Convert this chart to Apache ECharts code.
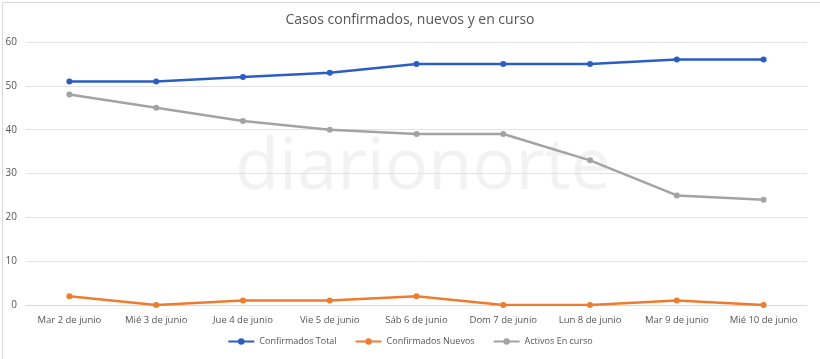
<!DOCTYPE html>
<html><head><meta charset="utf-8">
<script src="https://cdn.jsdelivr.net/npm/echarts@6/dist/echarts.min.js"></script>
<style>html,body{margin:0;padding:0;background:#fff}#c{width:820px;height:359px}</style>
</head><body><div id="c"></div>
<script>
const categories = ['Mar 2 de junio','Mié 3 de junio','Jue 4 de junio','Vie 5 de junio','Sáb 6 de junio','Dom 7 de junio','Lun 8 de junio','Mar 9 de junio','Mié 10 de junio'];
const confirmadosTotal = [51, 51, 52, 53, 55, 55, 55, 56, 56];
const confirmadosNuevos = [2, 0, 1, 1, 2, 0, 0, 1, 0];
const activosEnCurso = [48, 45, 42, 40, 39, 39, 33, 25, 24];
const seriesNames = ['Confirmados Total', 'Confirmados Nuevos', 'Activos En curso'];
const colors = ['#2B5EC4', '#EE7C2F', '#A3A3A3'];
const font = '"Open Sans", "Noto Sans", sans-serif';

const chart = echarts.init(document.getElementById('c'));
function mk(name, data, color) {
  return {
    name, type: 'line', data,
    symbol: 'circle', symbolSize: 6,
    lineStyle: { width: 2.5, color },
    itemStyle: { color },
    animation: false
  };
}
chart.setOption({
  animation: false,
  color: colors,
  title: {
    text: 'Casos confirmados, nuevos y en curso',
    left: 'center', top: 8,
    textStyle: { fontFamily: font, fontSize: 14, fontWeight: 'normal', color: '#555' }
  },
  graphic: [
    { type: 'rect', left: 0, top: 0, shape: { width: 819, height: 358 }, style: { fill: 'none', stroke: '#d9d9d9', lineWidth: 1 }, z: -10 },
    { type: 'text', left: 235, top: 132, z: -5, style: { text: 'diarionorte', fontSize: 72, fontFamily: font, fill: 'rgba(190,190,190,0.2)' } }
  ],
  legend: {
    bottom: 8, left: 'center',
    itemWidth: 26, itemHeight: 8, itemGap: 18,
    textStyle: { fontFamily: font, fontSize: 9, color: '#555' },
    data: seriesNames
  },
  grid: { left: 26, right: 13, top: 42, bottom: 54 },
  xAxis: {
    type: 'category', data: categories, boundaryGap: true,
    axisLine: { show: true, lineStyle: { color: '#d9d9d9' } },
    axisTick: { show: false },
    axisLabel: { fontFamily: font, fontSize: 9.5, color: '#555', margin: 10, interval: 0 }
  },
  yAxis: {
    type: 'value', min: 0, max: 60, interval: 10,
    axisLine: { show: false }, axisTick: { show: false },
    splitLine: { lineStyle: { color: '#e3e3e3' } },
    axisLabel: { fontFamily: font, fontSize: 10, color: '#555', margin: 9 }
  },
  series: [
    mk(seriesNames[0], confirmadosTotal, colors[0]),
    mk(seriesNames[1], confirmadosNuevos, colors[1]),
    mk(seriesNames[2], activosEnCurso, colors[2])
  ]
});
</script></body></html>
